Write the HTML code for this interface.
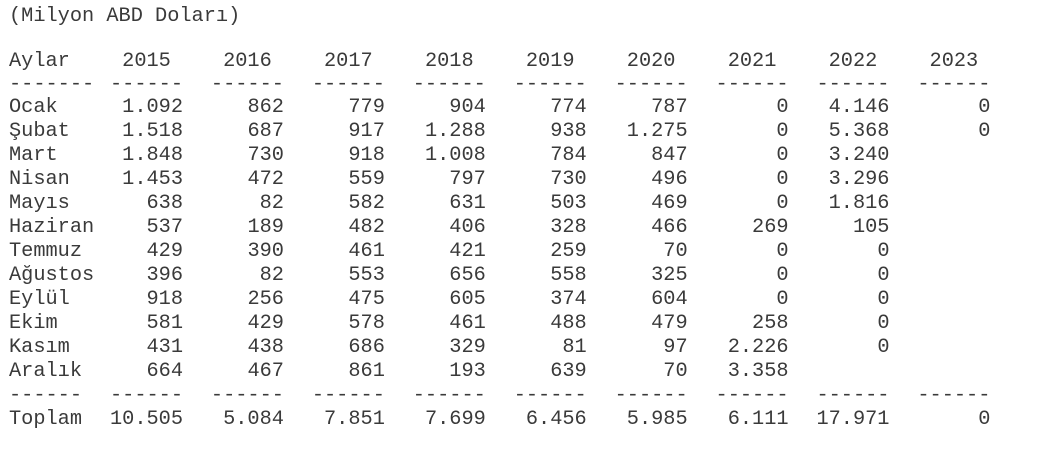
<!DOCTYPE html>
<html><head><meta charset="utf-8">
<style>
html,body{margin:0;padding:0;background:#fff;}
body{width:1038px;height:459px;position:relative;overflow:hidden;
font-family:"Liberation Mono","Courier New",monospace;font-size:20.3px;color:#3a3a3a;}
.t{position:absolute;left:9px;top:5px;height:24px;line-height:24px;white-space:pre;}
table{position:absolute;left:0;top:51px;border-collapse:collapse;table-layout:fixed;}
td{padding:0;white-space:pre;overflow:visible;}
td.l{width:101px;padding-left:9px;text-align:left;}
td.n{width:73px;padding-right:27.9px;text-align:right;}
td.h{width:73px;padding-right:27.9px;text-align:center;}
tr{height:24px;line-height:24px;}
tr.a{height:22px;line-height:22px;}
tr.d{height:23px;line-height:23px;}
</style></head><body>
<div class="t">(Milyon ABD Doları)</div>
<table>
<tr class="a"><td class="l">Aylar</td><td class="h">2015</td><td class="h">2016</td><td class="h">2017</td><td class="h">2018</td><td class="h">2019</td><td class="h">2020</td><td class="h">2021</td><td class="h">2022</td><td class="h">2023</td></tr>
<tr class="d"><td class="l">-------</td><td class="n">------</td><td class="n">------</td><td class="n">------</td><td class="n">------</td><td class="n">------</td><td class="n">------</td><td class="n">------</td><td class="n">------</td><td class="n">------</td></tr>
<tr><td class="l">Ocak</td><td class="n">1.092</td><td class="n">862</td><td class="n">779</td><td class="n">904</td><td class="n">774</td><td class="n">787</td><td class="n">0</td><td class="n">4.146</td><td class="n">0</td></tr>
<tr><td class="l">Şubat</td><td class="n">1.518</td><td class="n">687</td><td class="n">917</td><td class="n">1.288</td><td class="n">938</td><td class="n">1.275</td><td class="n">0</td><td class="n">5.368</td><td class="n">0</td></tr>
<tr><td class="l">Mart</td><td class="n">1.848</td><td class="n">730</td><td class="n">918</td><td class="n">1.008</td><td class="n">784</td><td class="n">847</td><td class="n">0</td><td class="n">3.240</td><td class="n"></td></tr>
<tr><td class="l">Nisan</td><td class="n">1.453</td><td class="n">472</td><td class="n">559</td><td class="n">797</td><td class="n">730</td><td class="n">496</td><td class="n">0</td><td class="n">3.296</td><td class="n"></td></tr>
<tr><td class="l">Mayıs</td><td class="n">638</td><td class="n">82</td><td class="n">582</td><td class="n">631</td><td class="n">503</td><td class="n">469</td><td class="n">0</td><td class="n">1.816</td><td class="n"></td></tr>
<tr><td class="l">Haziran</td><td class="n">537</td><td class="n">189</td><td class="n">482</td><td class="n">406</td><td class="n">328</td><td class="n">466</td><td class="n">269</td><td class="n">105</td><td class="n"></td></tr>
<tr><td class="l">Temmuz</td><td class="n">429</td><td class="n">390</td><td class="n">461</td><td class="n">421</td><td class="n">259</td><td class="n">70</td><td class="n">0</td><td class="n">0</td><td class="n"></td></tr>
<tr><td class="l">Ağustos</td><td class="n">396</td><td class="n">82</td><td class="n">553</td><td class="n">656</td><td class="n">558</td><td class="n">325</td><td class="n">0</td><td class="n">0</td><td class="n"></td></tr>
<tr><td class="l">Eylül</td><td class="n">918</td><td class="n">256</td><td class="n">475</td><td class="n">605</td><td class="n">374</td><td class="n">604</td><td class="n">0</td><td class="n">0</td><td class="n"></td></tr>
<tr><td class="l">Ekim</td><td class="n">581</td><td class="n">429</td><td class="n">578</td><td class="n">461</td><td class="n">488</td><td class="n">479</td><td class="n">258</td><td class="n">0</td><td class="n"></td></tr>
<tr><td class="l">Kasım</td><td class="n">431</td><td class="n">438</td><td class="n">686</td><td class="n">329</td><td class="n">81</td><td class="n">97</td><td class="n">2.226</td><td class="n">0</td><td class="n"></td></tr>
<tr><td class="l">Aralık</td><td class="n">664</td><td class="n">467</td><td class="n">861</td><td class="n">193</td><td class="n">639</td><td class="n">70</td><td class="n">3.358</td><td class="n"></td><td class="n"></td></tr>
<tr><td class="l">------</td><td class="n">------</td><td class="n">------</td><td class="n">------</td><td class="n">------</td><td class="n">------</td><td class="n">------</td><td class="n">------</td><td class="n">------</td><td class="n">------</td></tr>
<tr><td class="l">Toplam</td><td class="n">10.505</td><td class="n">5.084</td><td class="n">7.851</td><td class="n">7.699</td><td class="n">6.456</td><td class="n">5.985</td><td class="n">6.111</td><td class="n">17.971</td><td class="n">0</td></tr>
</table>
</body></html>
